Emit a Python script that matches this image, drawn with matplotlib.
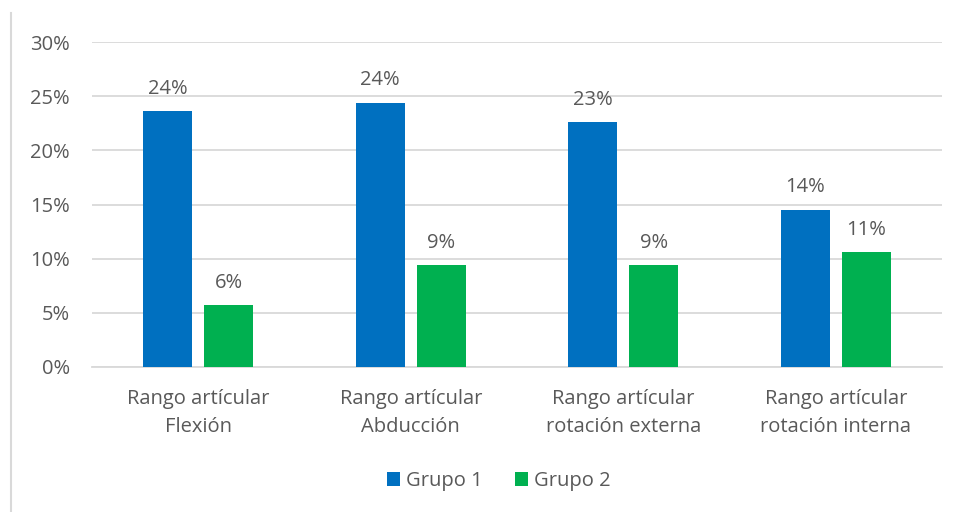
import matplotlib
matplotlib.use("Agg")
import matplotlib.pyplot as plt
import numpy as np
from matplotlib.lines import Line2D

categories = ["Rango artícular\nFlexión", "Rango artícular\nAbducción",
              "Rango artícular\nrotación externa", "Rango artícular\nrotación interna"]
grupo1 = [23.6, 24.4, 22.6, 14.5]
grupo2 = [5.7, 9.4, 9.4, 10.6]
yticks = [0, 5, 10, 15, 20, 25, 30]

BLUE = "#0070C0"
GREEN = "#00B050"
TEXT = "#595959"
GRID = "#D9D9D9"
FS = 14.5

plt.rcParams["font.family"] = ["Open Sans", "DejaVu Sans"]

W, H = 957, 512
fig = plt.figure(figsize=(W / 100, H / 100), dpi=100)
ax = fig.add_axes([92 / W, (H - 367) / H, (942 - 92) / W, (367 - 42) / H])

x = np.arange(len(categories))
width = 0.23
off = 0.1435
b1 = ax.bar(x - off, grupo1, width, color=BLUE, label="Grupo 1", zorder=3)
b2 = ax.bar(x + off, grupo2, width, color=GREEN, label="Grupo 2", zorder=3)

for bars, vals in ((b1, grupo1), (b2, grupo2)):
    for b, v in zip(bars, vals):
        ax.annotate(f"{v:.0f}%", (b.get_x() + b.get_width() / 2, v),
                    xytext=(0, 9), textcoords="offset points",
                    ha="center", va="bottom", fontsize=FS, color=TEXT)

ax.set_xlim(-0.5, len(categories) - 0.5)
ax.set_ylim(0, 30)
ax.set_yticks(yticks)
ax.set_yticklabels([f"{t}%" for t in yticks])
ax.set_xticks(x)
ax.set_xticklabels(categories, linespacing=1.55)
ax.tick_params(axis="both", length=0, colors=TEXT, labelsize=FS)
ax.tick_params(axis="y", pad=16)
ax.tick_params(axis="x", pad=16)
ax.yaxis.grid(True, color=GRID, linewidth=1.3, zorder=0)
for s in ("top", "right", "left"):
    ax.spines[s].set_visible(False)
ax.spines["bottom"].set_color(GRID)
ax.spines["bottom"].set_linewidth(1.3)

leg = fig.legend(handles=[b1, b2], loc="center", bbox_to_anchor=(499 / W, 1 - 481 / H),
                 ncol=2, frameon=False, fontsize=FS, handlelength=0.65, handleheight=0.65,
                 handletextpad=0.3, columnspacing=1.6)
for t in leg.get_texts():
    t.set_color(TEXT)

# light frame line on the left edge
fig.add_artist(Line2D([10.5 / W, 10.5 / W], [0, 1 - 13 / H], transform=fig.transFigure,
                      color=GRID, linewidth=1.5))

fig.savefig("out.png", dpi=100, facecolor="white")
